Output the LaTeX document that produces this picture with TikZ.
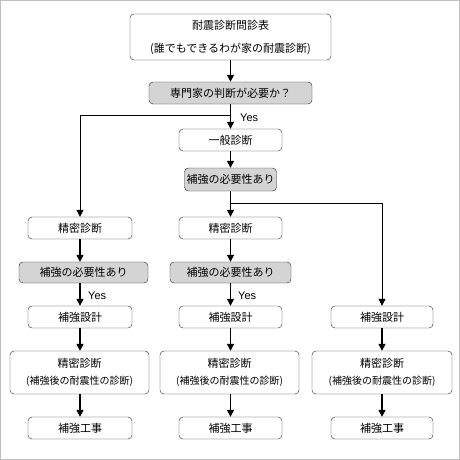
\documentclass[tikz,border=0pt]{standalone}
\usepackage{fontspec}
\setmainfont{Liberation Sans}
\newfontfamily\cjk{Noto Sans CJK JP}
\usetikzlibrary{arrows.meta}
\begin{document}
\begin{tikzpicture}[x=1pt, y=-1pt,
    box/.style={draw=black!85, rounded corners=4pt, fill=white, minimum height=22pt, inner sep=0pt, align=center, font=\cjk\fontsize{11}{13}\selectfont},
    gbox/.style={box, fill=black!17},
    big/.style={box, minimum height=43pt, font=\cjk\fontsize{11}{17}\selectfont},
    arr/.style={-{Triangle[width=7pt,length=7pt]}, line width=1.3pt, black},
    yes/.style={font=\fontsize{11}{13}\selectfont, inner sep=0pt, anchor=west}]
\useasboundingbox (0,0) rectangle (460,460);
\draw[black!25, line width=1pt] (0.5,0.5) rectangle (459.5,459.5);
\node[box, minimum width=201pt, minimum height=46pt, font=\cjk\fontsize{11}{23}\selectfont] (top) at (230.5,37) {耐震診断問診表\\(誰でもできるわが家の耐震診断)};
\node[gbox, minimum width=163pt] (need) at (230.5,93) {専門家の判断が必要か？};
\node[box, minimum width=103pt] (ippan) at (230.5,140) {一般診断};
\node[gbox, minimum width=92pt, minimum height=23pt] (hk) at (230.5,179.5) {補強の必要性あり};
\node[box, minimum width=104pt] (sL) at (80,228) {精密診断};
\node[gbox, minimum width=129pt, minimum height=21pt] (hkL) at (83.5,272.5) {補強の必要性あり};
\node[box, minimum width=104pt] (dL) at (80,317) {補強設計};
\node[big, minimum width=139pt] (bL) at (79.5,372.5) {精密診断\\{\fontsize{10}{12}\selectfont(補強後の耐震性の診断)}};
\node[box, minimum width=104pt] (kL) at (80,428) {補強工事};
\node[box, minimum width=103pt] (sM) at (230.5,228) {精密診断};
\node[gbox, minimum width=121pt, minimum height=21pt] (hkM) at (230.5,272.5) {補強の必要性あり};
\node[box, minimum width=103pt] (dM) at (230.5,317) {補強設計};
\node[big, minimum width=139pt] (bM) at (229.5,372.5) {精密診断\\{\fontsize{10}{12}\selectfont(補強後の耐震性の診断)}};
\node[box, minimum width=103pt] (kM) at (230.5,428) {補強工事};
\node[box, minimum width=102pt] (dR) at (382,317) {補強設計};
\node[big, minimum width=140pt] (bR) at (382,372.5) {精密診断\\{\fontsize{10}{12}\selectfont(補強後の耐震性の診断)}};
\node[box, minimum width=102pt] (kR) at (382,428) {補強工事};
\coordinate (jn) at (230.5,115);
\coordinate (br) at (230.5,203);
\draw[arr] (top) -- (need);
\draw[arr] (need) -- (ippan);
\draw[arr, line width=1pt] (jn) -| (sL.north);
\draw[arr] (ippan) -- (hk);
\draw[arr] (hk) -- (sM);
\draw[arr, line width=1pt] (br) -| (dR.north);
\draw[arr] (sL) -- (sL.south |- hkL.north);
\draw[arr] (sL.south |- hkL.south) -- (dL);
\draw[arr] (dL) -- (dL.south |- bL.north);
\draw[arr] (dL.south |- bL.south) -- (kL);
\draw[arr] (sM) -- (hkM);
\draw[arr] (hkM) -- (dM);
\draw[arr] (dM) -- (dM.south |- bM.north);
\draw[arr] (dM.south |- bM.south) -- (kM);
\draw[arr] (dR) -- (bR);
\draw[arr] (bR) -- (kR);
\node[yes] (y0) at (240,118) {Yes};
\node[yes] (y1) at (88,296) {Yes};
\node[yes] (y2) at (238,296) {Yes};
\end{tikzpicture}
\end{document}
